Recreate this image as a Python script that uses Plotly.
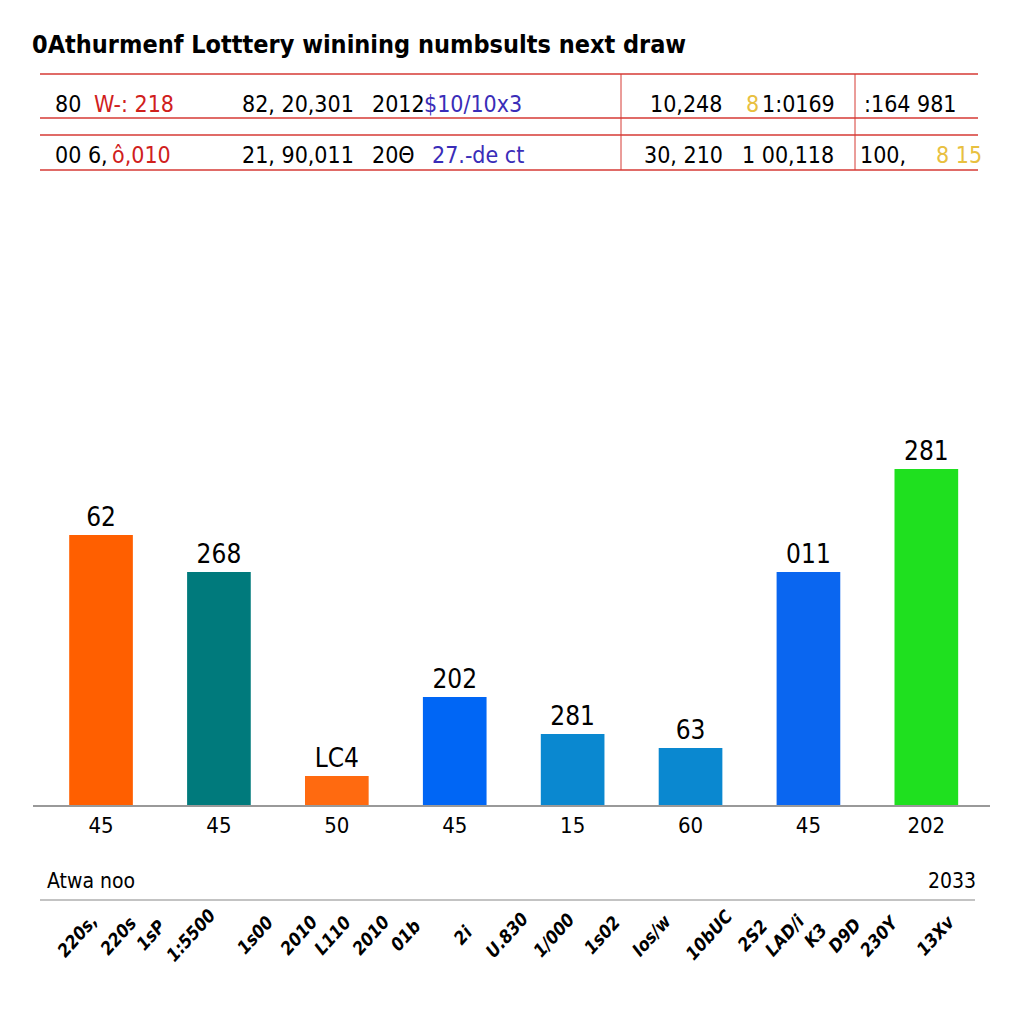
import plotly.graph_objects as go

# ---- data ----
bar_positions = [0, 1, 2, 3, 4, 5, 6, 7]
bar_ticklabels = ["45", "45", "50", "45", "15", "60", "45", "202"]
bar_values = [270, 233, 29, 108, 71, 57, 233, 336]
bar_labels = ["62", "268", "LC4", "202", "281", "63", "011", "281"]
bar_colors = ["#FF5F00", "#007A7C", "#FF6A10", "#0066F5", "#0A88D0", "#0A88D0", "#0A66F0", "#1FE01F"]

title_text = "0Athurmenf Lotttery winining numbsults next draw"

# table rows: (text, color, x pixel)
table_row1 = [("80", "black", 53), ("W-: 218", "#D0201C", 92), ("82, 20,301", "black", 240),
              ("2012", "black", 370), ("$10/10x3", "#3A2DB8", 422), ("10,248", "black", 648),
              ("8", "#E8C040", 744), ("1:0169", "black", 760), (":164 981", "black", 862)]
table_row2 = [("00 6,", "black", 53), ("ô,010", "#D0201C", 110), ("21, 90,011", "black", 240),
              ("20Θ", "black", 370), ("27.-de ct", "#3A2DB8", 430), ("30, 210", "black", 642),
              ("1 00,118", "black", 740), ("100,", "black", 858), ("8 15", "#E8C040", 934)]

footer_left = "Atwa noo"
footer_right = "2033"
rotated_labels = ["220s,", "220s", "1sP", "1:5500", "1s00", "2010", "L110", "2010", "01b", "2i",
                  "U.830", "1/000", "1s02", "Ios/w", "10bUC", "2S2", "LAD/i", "K3", "D9D", "230Y", "13Xv"]
rotated_x = [77, 118, 150, 190, 254, 298, 332, 370, 405, 462, 506, 553, 601, 651, 708, 752, 784, 815, 844, 879, 935]

W = H = 1008
OFF = 8  # page body margin
def px(x):
    return (x - OFF) / W
def py(y):
    return 1 - (y - OFF) / H

FONT = "DejaVu Sans Condensed, Liberation Sans Narrow, DejaVu Sans, sans-serif"

fig = go.Figure()
fig.add_trace(go.Bar(
    x=bar_positions, y=bar_values, marker_color=bar_colors, width=0.54,
    text=bar_labels, textposition="outside", cliponaxis=False,
    textfont=dict(size=26, color="black", family=FONT),
    marker_line_width=0, hoverinfo="skip",
))

shapes = []
red = "#D63A35"
for y in [74, 118, 135, 170]:
    shapes.append(dict(type="line", xref="paper", yref="paper", x0=px(40), x1=px(978),
                       y0=py(y), y1=py(y), line=dict(color=red, width=1.5)))
for x in [621, 855]:
    shapes.append(dict(type="line", xref="paper", yref="paper", x0=px(x), x1=px(x),
                       y0=py(74), y1=py(170), line=dict(color=red, width=1)))
shapes.append(dict(type="line", xref="paper", yref="paper", x0=px(40), x1=px(975),
                   y0=py(900), y1=py(900), line=dict(color="#888888", width=1.2)))

annotations = [dict(text="<b>" + title_text + "</b>", xref="paper", yref="paper", x=px(30), y=py(45),
                    xanchor="left", yanchor="middle", showarrow=False,
                    font=dict(size=25, color="black", family=FONT))]
for row, yy in [(table_row1, 104), (table_row2, 155)]:
    for t, c, x in row:
        annotations.append(dict(text=t, xref="paper", yref="paper", x=px(x), y=py(yy),
                                xanchor="left", yanchor="middle", showarrow=False,
                                font=dict(size=23, color=c, family=FONT)))
annotations.append(dict(text=footer_left, xref="paper", yref="paper", x=px(45), y=py(881),
                        xanchor="left", yanchor="middle", showarrow=False,
                        font=dict(size=21, color="black", family=FONT)))
annotations.append(dict(text=footer_right, xref="paper", yref="paper", x=px(978), y=py(881),
                        xanchor="right", yanchor="middle", showarrow=False,
                        font=dict(size=21, color="black", family=FONT)))
for t, x in zip(rotated_labels, rotated_x):
    annotations.append(dict(text="<b><i>" + t + "</i></b>", xref="paper", yref="paper", x=px(x), y=py(935),
                            xanchor="center", yanchor="middle", showarrow=False, textangle=-48,
                            font=dict(size=18, color="black", family=FONT)))

fig.update_layout(
    width=W, height=H, margin=dict(l=0, r=0, t=0, b=0),
    paper_bgcolor="white", plot_bgcolor="white", showlegend=False,
    shapes=shapes, annotations=annotations,
    xaxis=dict(domain=[px(33), px(990)], range=[-0.577, 7.54], tickmode="array",
               tickvals=bar_positions, ticktext=bar_ticklabels, showline=True,
               linecolor="#999999", linewidth=1.5, showgrid=False, zeroline=False,
               ticks="", tickfont=dict(size=22, color="black", family=FONT)),
    yaxis=dict(domain=[py(805), py(410)], range=[0, 395], visible=False, showgrid=False),
)

fig.write_html("out.html")
